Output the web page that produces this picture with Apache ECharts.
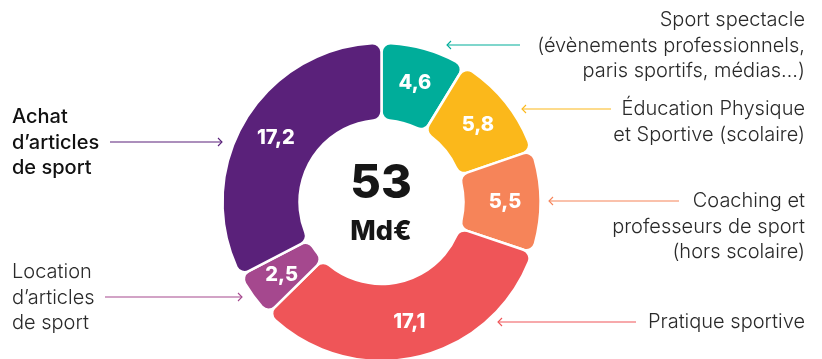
<!DOCTYPE html>
<html>
<head>
<meta charset="utf-8">
<script src="https://cdn.jsdelivr.net/npm/echarts@6/dist/echarts.min.js"></script>
<style>
  html, body { margin: 0; padding: 0; background: #fff; }
  #chart { width: 822px; height: 359px; }
</style>
</head>
<body>
<div id="chart"></div>
<script>
// Répartition de la dépense sportive (Md€)
const categories = [
  'Sport spectacle',
  'Éducation Physique et Sportive (scolaire)',
  'Coaching et professeurs de sport (hors scolaire)',
  'Pratique sportive',
  'Location d’articles de sport',
  'Achat d’articles de sport'
];
const values = [4.6, 5.8, 5.5, 17.1, 2.5, 17.2];
const colors = ['#00ad9a', '#fbb81b', '#f68459', '#ef5558', '#a5488e', '#5a217a'];

// Callout text, one array of lines per category
const calloutLines = [
  ['Sport spectacle', '(évènements professionnels,', 'paris sportifs, médias…)'],
  ['Éducation Physique', 'et Sportive (scolaire)'],
  ['Coaching et', 'professeurs de sport', '(hors scolaire)'],
  ['Pratique sportive'],
  ['Location', 'd’articles', 'de sport'],
  ['Achat', 'd’articles', 'de sport']
];
const totalText = '53';
const unitText = 'Md€';

const FONT = 'Inter, "Noto Sans", sans-serif';

// Callout layout: text anchor, arrow start/end, text side
const callouts = [
  { lines: calloutLines[0], tx: 805, ty: 20, side: 'right', ax1: 520, ax2: 447, ay: 45, color: colors[0], weight: 300, fill: '#2a2a2a' },
  { lines: calloutLines[1], tx: 805, ty: 109, side: 'right', ax1: 611, ax2: 522, ay: 109, color: colors[1], weight: 300, fill: '#2a2a2a' },
  { lines: calloutLines[2], tx: 805, ty: 201, side: 'right', ax1: 679, ax2: 549, ay: 201, color: colors[2], weight: 300, fill: '#2a2a2a' },
  { lines: calloutLines[3], tx: 805, ty: 322, side: 'right', ax1: 636, ax2: 498, ay: 322, color: colors[3], weight: 300, fill: '#2a2a2a' },
  { lines: calloutLines[4], tx: 12, ty: 272, side: 'left', ax1: 105, ax2: 242, ay: 297, color: colors[4], weight: 300, fill: '#2a2a2a' },
  { lines: calloutLines[5], tx: 12, ty: 117, side: 'left', ax1: 110, ax2: 222, ay: 142, color: colors[5], weight: 500, fill: '#111' }
];

const LINE_H = 25.5;
const graphics = [];
callouts.forEach(c => {
  c.lines.forEach((ln, i) => {
    graphics.push({
      type: 'text',
      x: c.tx, y: c.ty + i * LINE_H,
      style: {
        text: ln,
        fill: c.fill,
        font: `${c.weight} 20px ${FONT}`,
        textAlign: c.side === 'right' ? 'right' : 'left',
        textVerticalAlign: 'middle'
      }
    });
  });
  graphics.push({
    type: 'line',
    shape: { x1: c.ax1, y1: c.ay, x2: c.ax2, y2: c.ay },
    style: { stroke: c.color, lineWidth: 1.1 }
  });
  const dir = c.ax2 < c.ax1 ? 1 : -1;
  graphics.push({
    type: 'polyline',
    shape: { points: [[c.ax2 + dir * 4, c.ay - 4], [c.ax2, c.ay], [c.ax2 + dir * 4, c.ay + 4]] },
    style: { stroke: c.color, lineWidth: 1.1, fill: null }
  });
});

// Center total
graphics.push({
  type: 'text', x: 381, y: 184,
  style: { text: totalText, fill: '#161616', font: `800 47px ${FONT}`, textAlign: 'center', textVerticalAlign: 'middle' }
});
graphics.push({
  type: 'text', x: 381, y: 232,
  style: { text: unitText, fill: '#161616', font: `800 27px ${FONT}`, textAlign: 'center', textVerticalAlign: 'middle' }
});

const chart = echarts.init(document.getElementById('chart'), null, { renderer: 'canvas' });
chart.setOption({
  animation: false,
  backgroundColor: '#ffffff',
  series: [{
    type: 'pie',
    center: [381.5, 202],
    radius: [82, 159],
    startAngle: 90,
    clockwise: true,
    avoidLabelOverlap: false,
    emphasis: { disabled: true },
    itemStyle: { borderColor: '#ffffff', borderWidth: 2.5, borderRadius: 9 },
    label: {
      show: true,
      position: 'inside',
      color: '#ffffff',
      fontFamily: FONT,
      fontWeight: 800,
      fontSize: 20,
      formatter: p => String(p.value).replace('.', ',')
    },
    labelLine: { show: false },
    data: categories.map((name, i) => ({ name, value: values[i], itemStyle: { color: colors[i] } }))
  }],
  graphic: graphics
});
</script>
</body>
</html>
